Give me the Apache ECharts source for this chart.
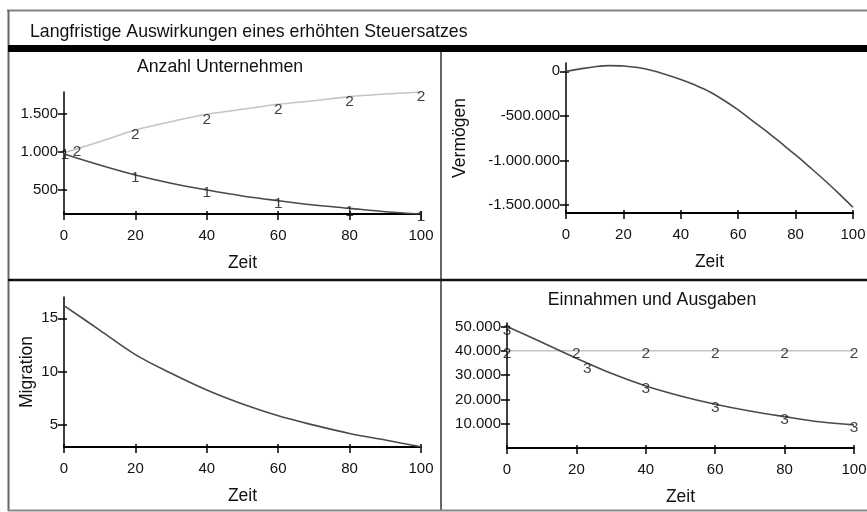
<!DOCTYPE html>
<html>
<head>
<meta charset="utf-8">
<script src="https://cdn.jsdelivr.net/npm/echarts@6/dist/echarts.min.js"></script>
<style>
  html, body { margin: 0; padding: 0; background: #fff; }
  #chart { width: 867px; height: 512px; }
</style>
</head>
<body>
<div id="chart"></div>
<script>
// Zeit (Jahre)
const zeit = [0, 10, 20, 30, 40, 50, 60, 70, 80, 90, 100];
const zeitFein = [0, 5, 10, 15, 20, 25, 30, 35, 40, 45, 50, 55, 60, 65, 70, 75, 80, 85, 90, 95, 100];

// Anzahl Unternehmen: 1 = erhöhter Steuersatz, 2 = Vergleich
const unternehmen1 = [972, 826, 693, 583, 494, 414, 351, 295, 250, 205, 175];
const unternehmen2 = [989, 1135, 1290, 1401, 1499, 1565, 1632, 1679, 1733, 1768, 1795];

// Vermögen
const vermoegen = [0, 27000, 51000, 64000, 60000, 42000, 9000, -38000, -92000, -155000, -229000,
  -325000, -434000, -556000, -677000, -807000, -939000, -1078000, -1220000, -1369000, -1526000];

// Migration
const migration = [16.2, 13.9, 11.6, 9.85, 8.28, 6.97, 5.87, 5.0, 4.22, 3.6, 2.97];

// Einnahmen und Ausgaben: 2 = Ausgaben, 3 = Einnahmen
const ausgaben = [40000, 40000, 40000, 40000, 40000, 40000, 40000, 40000, 40000, 40000, 40000];
const einnahmen = [50000, 43500, 36900, 30700, 25500, 21400, 18000, 15200, 12900, 10800, 9500];

// Achsenbeschriftungen
const xTicks = [0, 20, 40, 60, 80, 100];
const yTicksUnternehmen = [500, 1000, 1500];
const yTicksVermoegen = [0, -500000, -1000000, -1500000];
const yTicksMigration = [5, 10, 15];
const yTicksEinnahmen = [10000, 20000, 30000, 40000, 50000];

const FONT = '"Liberation Sans", Arial, sans-serif';
const TXT = '#111';
const DARK = '#4a4a4a';
const LIGHT = '#c4c4c4';

function de(v) {
  const s = Math.abs(v).toString().replace(/\B(?=(\d{3})+(?!\d))/g, '.');
  return (v < 0 ? '-' : '') + s;
}

const panels = [
  { grid: { left: 64, top: 92, width: 357, height: 122 }, min: 175, max: 1795, ticks: yTicksUnternehmen, name: '', nameGap: 0 },
  { grid: { left: 566, top: 63, width: 287, height: 150 }, min: -1590000, max: 93000, ticks: yTicksVermoegen, name: 'Vermögen', nameGap: 97 },
  { grid: { left: 64, top: 297, width: 357, height: 150 }, min: 2.95, max: 17, ticks: yTicksMigration, name: 'Migration', nameGap: 28 },
  { grid: { left: 507, top: 323, width: 347, height: 125 }, min: 0, max: 51400, ticks: yTicksEinnahmen, name: '', nameGap: 0 }
];

const grids = [], xAxes = [], yAxes = [];
panels.forEach((p, i) => {
  grids.push(Object.assign({ containLabel: false, outerBoundsMode: 'none' }, p.grid));
  // main x axis
  xAxes.push({
    gridIndex: i, type: 'value', min: 0, max: 100, interval: 20, position: 'bottom',
    name: 'Zeit', nameLocation: 'middle', nameGap: 40,
    nameTextStyle: { fontSize: 17.5, color: TXT, fontFamily: FONT },
    axisLine: { show: true, onZero: false, lineStyle: { color: '#000', width: 2 } },
    axisTick: { show: true, length: 6, lineStyle: { color: '#000', width: 1.5 } },
    axisLabel: { margin: 14, fontSize: 15, color: TXT, fontFamily: FONT },
    splitLine: { show: false }
  });
  // inner half of the cross ticks
  xAxes.push({
    gridIndex: i, type: 'value', min: 0, max: 100, interval: 20, position: 'bottom',
    axisLine: { show: false, onZero: false },
    axisTick: { show: true, inside: true, length: 3, lineStyle: { color: '#000', width: 1.5 } },
    axisLabel: { show: false }, splitLine: { show: false }
  });
  yAxes.push({
    gridIndex: i, type: 'value', min: p.min, max: p.max, position: 'left',
    name: p.name, nameLocation: 'middle', nameGap: p.nameGap,
    nameTextStyle: { fontSize: 17.5, color: TXT, fontFamily: FONT },
    axisLine: { show: true, onZero: false, lineStyle: { color: '#000', width: 1.5 } },
    axisTick: { show: true, length: 6, customValues: p.ticks, lineStyle: { color: '#000', width: 1.5 } },
    axisLabel: { margin: 6, fontSize: 15, color: TXT, fontFamily: FONT, customValues: p.ticks, formatter: de },
    splitLine: { show: false }
  });
  yAxes.push({
    gridIndex: i, type: 'value', min: p.min, max: p.max, position: 'left',
    axisLine: { show: false, onZero: false },
    axisTick: { show: true, inside: true, length: 3, customValues: p.ticks, lineStyle: { color: '#000', width: 1.5 } },
    axisLabel: { show: false }, splitLine: { show: false }
  });
});

function lineSeries(i, xs, ys, color) {
  return {
    type: 'line', xAxisIndex: 2 * i, yAxisIndex: 2 * i, showSymbol: false, smooth: 0.35,
    lineStyle: { color: color, width: 1.6 }, data: xs.map((t, k) => [t, ys[k]]),
    silent: true, z: 3
  };
}

function labelSeries(i, ys, text, offset, special) {
  const data = [];
  zeit.forEach((t, k) => {
    if (xTicks.indexOf(t) < 0) return;
    const item = { value: [t, ys[k]] };
    if (special && special[t]) item.label = { offset: special[t] };
    data.push(item);
  });
  return {
    type: 'scatter', xAxisIndex: 2 * i, yAxisIndex: 2 * i, symbolSize: 1,
    itemStyle: { color: 'rgba(0,0,0,0)' }, silent: true, z: 6,
    label: { show: true, position: 'inside', formatter: text, fontSize: 15.5, color: TXT, fontFamily: FONT, offset: offset },
    data: data
  };
}

const titleStyle = { fontSize: 17.7, fontWeight: 'normal', color: TXT, fontFamily: FONT };

const option = {
  backgroundColor: '#fff',
  animation: false,
  title: [
    { text: 'Langfristige Auswirkungen eines erhöhten Steuersatzes', left: 30, top: 23, padding: 0, textStyle: titleStyle },
    { text: 'Anzahl Unternehmen', left: 220, top: 58, padding: 0, textAlign: 'center', textStyle: titleStyle },
    { text: 'Einnahmen und Ausgaben', left: 652, top: 291, padding: 0, textAlign: 'center', textStyle: titleStyle }
  ],
  grid: grids,
  xAxis: xAxes,
  yAxis: yAxes,
  series: [
    lineSeries(0, zeit, unternehmen2, LIGHT),
    lineSeries(0, zeit, unternehmen1, DARK),
    labelSeries(0, unternehmen2, '2', [0, 5], { 0: [13, -1] }),
    labelSeries(0, unternehmen1, '1', [0, 3], { 0: [1, 1] }),
    lineSeries(1, zeitFein, vermoegen, DARK),
    lineSeries(2, zeit, migration, DARK),
    lineSeries(3, zeit, ausgaben, LIGHT),
    lineSeries(3, zeit, einnahmen, DARK),
    labelSeries(3, ausgaben, '2', [0, 3]),
    labelSeries(3, einnahmen, '3', [0, 3], { 0: [0, 4], 20: [11, 10] })
  ],
  graphic: [
    { type: 'line', silent: true, shape: { x1: 7, y1: 10.5, x2: 867, y2: 10.5 }, style: { stroke: '#808080', lineWidth: 2 } },
    { type: 'line', silent: true, shape: { x1: 8.5, y1: 10, x2: 8.5, y2: 511 }, style: { stroke: '#666', lineWidth: 2 } },
    { type: 'rect', silent: true, shape: { x: 8, y: 45, width: 859, height: 7 }, style: { fill: '#000' } },
    { type: 'line', silent: true, shape: { x1: 441, y1: 52, x2: 441, y2: 511 }, style: { stroke: '#666', lineWidth: 2 } },
    { type: 'line', silent: true, shape: { x1: 8, y1: 280, x2: 867, y2: 280 }, style: { stroke: '#111', lineWidth: 2.5 } },
    { type: 'line', silent: true, shape: { x1: 8, y1: 510.5, x2: 867, y2: 510.5 }, style: { stroke: '#888', lineWidth: 2 } }
  ]
};

const chart = echarts.init(document.getElementById('chart'), null, { renderer: 'canvas' });
chart.setOption(option);
</script>
</body>
</html>
